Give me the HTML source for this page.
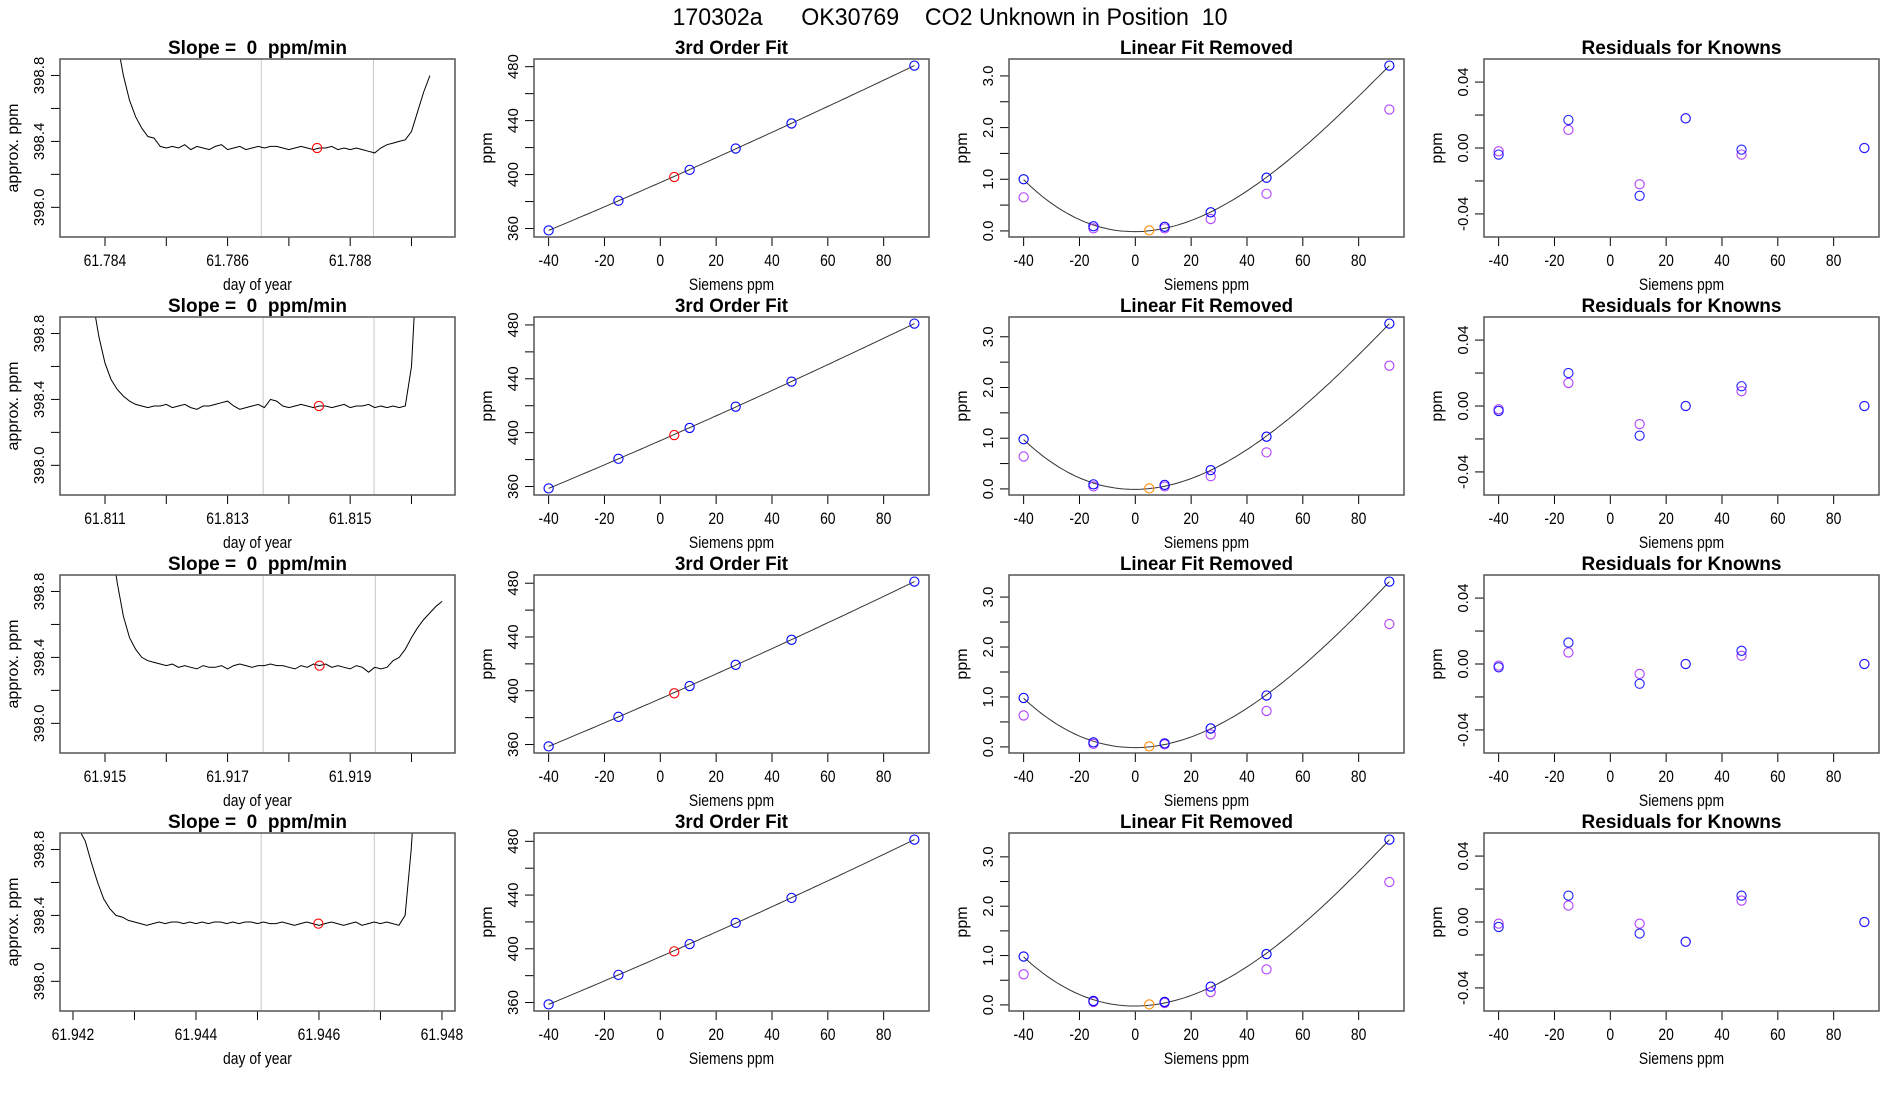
<!DOCTYPE html>
<html><head><meta charset="utf-8">
<style>
html,body{margin:0;padding:0;background:#fff;}
svg{display:block;font-family:"Liberation Sans",sans-serif;}
</style></head>
<body>
<svg id="chart" width="1900" height="1100" viewBox="0 0 1900 1100" xmlns="http://www.w3.org/2000/svg">
<text x="950" y="25" text-anchor="middle" font-size="24" textLength="555" lengthAdjust="spacingAndGlyphs" xml:space="preserve">170302a      OK30769    CO2 Unknown in Position  10</text>
</svg>
<script>
// ---------- data ----------
const siemensX = [-40, -15, 10.5, 27, 47, 91];
const unknownX = 5;
const rowTraceStart = [61.7841, 61.8108, 61.9151, 61.9421];
const traceStep = 0.0001;
const trace1 = [399.4,399.0,398.8,398.65,398.55,398.48,398.43,398.42,398.37,398.36,398.37,398.36,398.38,398.35,398.37,398.36,398.35,398.37,398.38,398.35,398.36,398.37,398.35,398.36,398.37,398.36,398.37,398.37,398.36,398.35,398.36,398.37,398.36,398.35,398.36,398.36,398.37,398.35,398.36,398.35,398.36,398.35,398.34,398.33,398.36,398.38,398.39,398.40,398.41,398.46,398.58,398.70,398.80];
const trace2 = [399.0,398.78,398.62,398.52,398.46,398.42,398.39,398.37,398.36,398.35,398.36,398.36,398.37,398.35,398.36,398.37,398.35,398.34,398.36,398.36,398.37,398.38,398.39,398.36,398.34,398.35,398.36,398.37,398.35,398.40,398.39,398.36,398.35,398.36,398.37,398.36,398.35,398.36,398.36,398.35,398.36,398.37,398.35,398.36,398.36,398.37,398.35,398.36,398.35,398.36,398.35,398.36,398.60,399.3];
const trace3 = [399.1,398.85,398.65,398.52,398.45,398.40,398.38,398.37,398.36,398.35,398.36,398.34,398.35,398.34,398.33,398.35,398.34,398.34,398.35,398.33,398.35,398.36,398.35,398.34,398.35,398.35,398.36,398.35,398.35,398.34,398.33,398.35,398.34,398.36,398.35,398.36,398.34,398.35,398.34,398.33,398.35,398.34,398.31,398.34,398.33,398.34,398.38,398.40,398.45,398.52,398.58,398.63,398.67,398.71,398.74];
const trace4 = [398.92,398.85,398.72,398.6,398.5,398.44,398.40,398.39,398.37,398.36,398.35,398.34,398.35,398.36,398.35,398.36,398.36,398.35,398.36,398.35,398.36,398.35,398.36,398.36,398.35,398.36,398.35,398.36,398.36,398.35,398.36,398.35,398.35,398.36,398.35,398.34,398.35,398.36,398.35,398.34,398.35,398.36,398.35,398.34,398.35,398.36,398.34,398.35,398.36,398.35,398.36,398.35,398.34,398.40,398.80,399.4];
const traces = [trace1, trace2, trace3, trace4];
const rowDayDomain = [[61.783266,61.789710],[61.810266,61.816710],[61.914266,61.920710],[61.941789,61.948212]];
const rowDayTicks = [[61.784,61.785,61.786,61.787,61.788,61.789],[61.811,61.812,61.813,61.814,61.815,61.816],[61.915,61.916,61.917,61.918,61.919,61.920],[61.942,61.943,61.944,61.945,61.946,61.947,61.948]];
const rowDayLabels = [["61.784","","61.786","","61.788",""],["61.811","","61.813","","61.815",""],["61.915","","61.917","","61.919",""],["61.942","","61.944","","61.946","","61.948"]];
const rowGreyLines = [[61.78655,61.78838],[61.81358,61.81539],[61.91758,61.91941],[61.94506,61.94690]];
const rowUnknownDay = [61.78746, 61.81449, 61.91850, 61.94599];
const rowUnknownPpm = [398.36, 398.36, 398.35, 398.35];
const ppmTicks = [398.0,398.2,398.4,398.6,398.8];
const ppmLabels = ["398.0","","398.4","","398.8"];
const fitY = [[358.6,380.6,403.5,419.3,437.9,480.8],[358.6,380.6,403.5,419.3,437.9,481.0],[358.6,380.6,403.5,419.3,437.9,481.2],[358.6,380.6,403.5,419.3,437.9,481.3]];
const unknownFitY = [398.2, 398.2, 398.1, 398.1];
const linRemBlue = [[1.0,0.09,0.08,0.36,1.03,3.2],[0.98,0.09,0.08,0.37,1.03,3.26],[0.98,0.09,0.07,0.37,1.03,3.31],[0.98,0.08,0.06,0.37,1.03,3.35]];
const linRemPurple = [[0.65,0.05,0.05,0.23,0.72,2.35],[0.64,0.05,0.05,0.25,0.72,2.43],[0.63,0.06,0.05,0.25,0.72,2.46],[0.62,0.06,0.04,0.26,0.72,2.49]];
const linRemUnknown = [0.01, 0.01, 0.01, 0.01];
const residBlue = [[-0.004,0.017,-0.029,0.018,-0.001,0.000],[-0.003,0.020,-0.018,0.000,0.012,0.000],[-0.002,0.013,-0.012,0.000,0.008,0.000],[-0.003,0.016,-0.007,-0.012,0.016,0.000]];
const residPurple = [[-0.002,0.011,-0.022,0.018,-0.004,0.000],[-0.002,0.014,-0.011,0.000,0.009,0.000],[-0.001,0.007,-0.006,0.000,0.005,0.000],[-0.001,0.010,-0.001,-0.012,0.013,0.000]];
const siemensTicks = [-40,-20,0,20,40,60,80];
const fitTicks = [360,380,400,420,440,460,480];
const fitLabels = ["360","","400","","440","","480"];
const linTicks = [0,0.5,1,1.5,2,2.5,3];
const linLabels = ["0.0","","1.0","","2.0","","3.0"];
const resTicks = [-0.04,-0.02,0,0.02,0.04];
const resLabels = ["-0.04","","0.00","","0.04"];

// ---------- drawing ----------
const NS = "http://www.w3.org/2000/svg";
const svg = document.getElementById("chart");
const colLeft = [60, 534, 1009, 1484];
const boxW = 395, boxH = 178;
const rowTop = [59, 317, 575, 833];
function mk(tag, attrs, parent){ const e=document.createElementNS(NS,tag); for(const k in attrs) e.setAttribute(k,attrs[k]); (parent||svg).appendChild(e); return e; }
function scale(d0,d1,r0,r1){ return v => r0 + (v-d0)/(d1-d0)*(r1-r0); }
function pad(arr){ const mn=Math.min(...arr), mx=Math.max(...arr), p=(mx-mn)*0.04; return [mn-p, mx+p]; }
let clipId = 0;

function panel(r, c, title, titleW, xlab, ylab, xDom, yDom, xTicks, xLabels, yTicks, yLabels){
  const L=colLeft[c], T=rowTop[r];
  const g = mk("g",{});
  
  
  const sx = scale(xDom[0],xDom[1],L,L+boxW), sy = scale(yDom[0],yDom[1],T+boxH,T);
  const t = mk("text",{x:L+boxW/2,y:T-5,"text-anchor":"middle","font-size":19,"font-weight":"bold",textLength:titleW,lengthAdjust:"spacingAndGlyphs"},g);
  t.textContent = title;
  
  
  xTicks.forEach((v,i)=>{
    const x=sx(v);
    const tk = mk("line",{x1:x,x2:x,y1:T+boxH,y2:T+boxH+9,stroke:"#000","stroke-width":1},g);
    
    
    if(xLabels[i]){ const tl=mk("text",{x:x,y:T+boxH+29,"text-anchor":"middle","font-size":17,transform:`translate(${x},0) scale(0.82,1) translate(${-x},0)`},g); tl.textContent=xLabels[i];
      
       }
  });
  yTicks.forEach((v,i)=>{
    const y=sy(v);
    const tk = mk("line",{x1:L,x2:L-9,y1:y,y2:y,stroke:"#000","stroke-width":1},g);
    
    
    if(yLabels[i]){ const tl=mk("text",{x:0,y:0,"text-anchor":"middle","font-size":15,transform:`translate(${L-16},${y}) rotate(-90)`},g); tl.textContent=yLabels[i];
      
       }
  });
  const xl = mk("text",{x:L+boxW/2,y:T+boxH+53,"text-anchor":"middle","font-size":17,transform:`translate(${L+boxW/2},0) scale(0.82,1) translate(${-(L+boxW/2)},0)`},g);
  xl.textContent = xlab;
  
  
  const yl = mk("text",{x:0,y:0,"text-anchor":"middle","font-size":16,transform:`translate(${L-42},${T+boxH/2}) rotate(-90)`},g);
  yl.textContent = ylab;
  
  
  const id = "clip"+(clipId++);
  const cp = mk("clipPath",{id:id},g); mk("rect",{x:L,y:T,width:boxW,height:boxH},cp);
  const inner = mk("g",{"clip-path":`url(#${id})`},g);
  return {g, inner, sx, sy, L, T};
}
function box(p){
  const b = mk("rect",{x:p.L,y:p.T,width:boxW,height:boxH,fill:"none",stroke:"#555","stroke-width":1.5},p.g);
  
  
}
function circle(p, x, y, color, name){
  const c = mk("circle",{cx:p.sx(x),cy:p.sy(y),r:4.6,fill:"none",stroke:color,"stroke-width":1.1},p.g);
  
  
}
function polyfit(xs, ys, deg){
  const n=deg+1, A=[], b=[];
  for(let i=0;i<n;i++){A.push(new Array(n).fill(0)); b.push(0);}
  xs.forEach((x,k)=>{ for(let i=0;i<n;i++){ b[i]+=ys[k]*Math.pow(x,i); for(let j=0;j<n;j++) A[i][j]+=Math.pow(x,i+j);} });
  for(let i=0;i<n;i++){ let m=i; for(let r=i+1;r<n;r++) if(Math.abs(A[r][i])>Math.abs(A[m][i])) m=r;
    [A[i],A[m]]=[A[m],A[i]]; [b[i],b[m]]=[b[m],b[i]];
    for(let r=0;r<n;r++){ if(r===i) continue; const f=A[r][i]/A[i][i]; for(let j=i;j<n;j++) A[r][j]-=f*A[i][j]; b[r]-=f*b[i]; } }
  return b.map((v,i)=>v/A[i][i]);
}
const evalPoly = (co,x)=>co.reduce((s,c,i)=>s+c*Math.pow(x,i),0);

const sieDom = pad(siemensX.concat([unknownX]));
for(let r=0;r<4;r++){
  let p = panel(r,0,"Slope =\u00a0\u00a00\u00a0\u00a0ppm/min",179,"day of year","approx. ppm",rowDayDomain[r],[397.82,398.90],rowDayTicks[r],rowDayLabels[r],ppmTicks,ppmLabels);
  rowGreyLines[r].forEach(d=>{ const l=mk("line",{x1:p.sx(d),x2:p.sx(d),y1:p.T,y2:p.T+boxH,stroke:"#c8c8c8","stroke-width":1},p.inner);
    
     });
  const pts = traces[r].map((v,i)=>p.sx(rowTraceStart[r]+i*traceStep).toFixed(1)+","+p.sy(v).toFixed(1)).join(" ");
  const tl = mk("polyline",{points:pts,fill:"none",stroke:"#000","stroke-width":1},p.inner);
  
  
  circle(p, rowUnknownDay[r], rowUnknownPpm[r], "#ff0000", "unknown-mean-point");
  box(p);

  p = panel(r,1,"3rd Order Fit",113,"Siemens ppm","ppm",sieDom,pad(fitY[r].concat([unknownFitY[r]])),siemensTicks,siemensTicks.map(String),fitTicks,fitLabels);
  const co3 = polyfit(siemensX, fitY[r], 3);
  let lp=[]; for(let i=0;i<=100;i++){ const x=siemensX[0]+(siemensX[5]-siemensX[0])*i/100; lp.push(p.sx(x).toFixed(1)+","+p.sy(evalPoly(co3,x)).toFixed(1)); }
  const fl = mk("polyline",{points:lp.join(" "),fill:"none",stroke:"#333","stroke-width":1},p.inner);
  
  
  siemensX.forEach((x,i)=>circle(p,x,fitY[r][i],"#0000ff","standard-point"));
  circle(p, unknownX, unknownFitY[r], "#ff0000", "unknown-point");
  box(p);

  p = panel(r,2,"Linear Fit Removed",173,"Siemens ppm","ppm",sieDom,pad(linRemBlue[r].concat(linRemPurple[r],[linRemUnknown[r]])),siemensTicks,siemensTicks.map(String),linTicks,linLabels);
  const coQ = polyfit(siemensX, linRemBlue[r], 3);
  lp=[]; for(let i=0;i<=100;i++){ const x=siemensX[0]+(siemensX[5]-siemensX[0])*i/100; lp.push(p.sx(x).toFixed(1)+","+p.sy(evalPoly(coQ,x)).toFixed(1)); }
  const cl = mk("polyline",{points:lp.join(" "),fill:"none",stroke:"#333","stroke-width":1},p.inner);
  
  
  siemensX.forEach((x,i)=>circle(p,x,linRemPurple[r][i],"#b040ff","previous-point"));
  siemensX.forEach((x,i)=>circle(p,x,linRemBlue[r][i],"#0000ff","standard-point"));
  circle(p, unknownX, linRemUnknown[r], "#ff8c00", "unknown-point");
  box(p);

  p = panel(r,3,"Residuals for Knowns",200,"Siemens ppm","ppm",sieDom,[-0.054,0.054],siemensTicks,siemensTicks.map(String),resTicks,resLabels);
  siemensX.forEach((x,i)=>circle(p,x,residPurple[r][i],"#b040ff","residual-previous"));
  siemensX.forEach((x,i)=>circle(p,x,residBlue[r][i],"#2020ff","residual-point"));
  box(p);
}
</script>
</body></html>
